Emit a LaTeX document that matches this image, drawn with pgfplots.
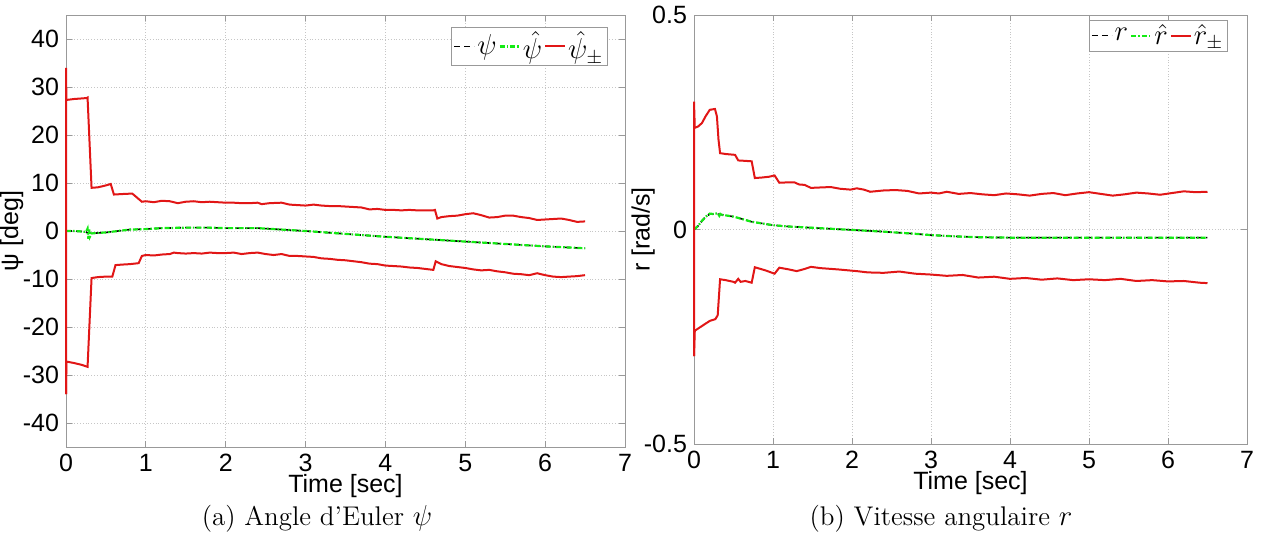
\documentclass[border=0pt]{standalone}
\usepackage{fontspec}
\newfontfamily\arial{Liberation Sans}
\usepackage{pgfplots}
\pgfplotsset{compat=1.18}
\definecolor{mred}{RGB}{225,22,22}
\definecolor{mgreen}{RGB}{20,235,20}
\pgfplotsset{
  mstyle/.style={
    scale only axis,
    clip=false,
    xmin=0, xmax=7,
    xtick={0,1,2,3,4,5,6,7},
    xticklabels={0,1,2,3,4,5,6,7},
    grid=major,
    grid style={densely dotted, gray!45},
    axis line style={gray!80},
    tick style={gray!80, thin},
    tick align=inside,
    major tick length=3pt,
    ticklabel style={font=\arial\fontsize{12.5}{14}\selectfont, text=black},
    label style={font=\arial\fontsize{12.5}{14}\selectfont},
    xlabel style={at={(axis description cs:0.5,0)}, anchor=center, yshift=-19.5pt},
    legend columns=3,
    legend style={draw=gray!80, fill=white, inner xsep=1pt, inner ysep=2pt, outer sep=0pt,
      font=\fontsize{14.5}{16}\selectfont,
      /tikz/every even column/.append style={column sep=0pt},
      nodes={inner xsep=1pt, inner ysep=0pt}},
    legend image code/.code={\draw[#1] (0pt,0pt) -- (10pt,0pt);},
  },
  redl/.style={mred, line width=1pt, solid},
  blkl/.style={black, line width=0.8pt, densely dashed},
  grnl/.style={mgreen, line width=1.1pt, dash pattern=on 2.5pt off 1pt on 0.8pt off 1pt},
}
\begin{document}
\begin{tikzpicture}
\useasboundingbox (0,0) rectangle (632pt,271pt);
% ---------------- left ----------------
\begin{axis}[mstyle,
  at={(33pt,47.5pt)}, anchor=south west,
  width=279.5pt, height=216pt,
  ymin=-45, ymax=45,
  ytick={-40,-30,-20,-10,0,10,20,30,40},
  yticklabels={-40,-30,-20,-10,0,10,20,30,40},
  xlabel={Time [sec]},
  ylabel={ψ [deg]},
  ylabel style={at={(axis description cs:-0.097,0.5)}, anchor=center},
  legend style={at={(axis description cs:0.968,0.972)}, anchor=north east},
]
\addplot[blkl] coordinates {
(0,0) (0.1,0) (0.2,-0.1) (0.25,-0.2) (0.28,-0.5) (0.3,-0.4) (0.32,-0.5) (0.4,-0.4) (0.5,-0.3) (0.6,-0.1) (0.7,0.1) (0.8,0.3) (1.0,0.4) (1.2,0.6) (1.5,0.7) (1.8,0.7) (2.0,0.6) (2.4,0.6) (2.6,0.4) (2.8,0.2) (3.0,0.0) (3.5,-0.6) (4.0,-1.2) (4.5,-1.7) (5.0,-2.2) (5.5,-2.7) (6.0,-3.2) (6.5,-3.6)
};
\addlegendentry{$\psi$}
\addplot[grnl] coordinates {
(0,0) (0.1,0) (0.2,-0.1) (0.25,-0.2) (0.27,0.5) (0.28,-1.6) (0.29,0.3) (0.3,-1.2) (0.32,-0.5) (0.4,-0.4) (0.5,-0.3) (0.6,-0.1) (0.7,0.1) (0.8,0.3) (1.0,0.4) (1.2,0.6) (1.5,0.7) (1.8,0.7) (2.0,0.6) (2.4,0.6) (2.6,0.4) (2.8,0.2) (3.0,0.0) (3.5,-0.6) (4.0,-1.2) (4.5,-1.7) (5.0,-2.2) (5.5,-2.7) (6.0,-3.2) (6.5,-3.6)
};
\addlegendentry{$\hat\psi$}
\addplot[redl] coordinates {
(0,-34) (0,34) (0.005,27.3) (0.1,27.5) (0.26,27.7) (0.27,27.8) (0.32,9.0) (0.4,9.1) (0.5,9.5) (0.56,9.8) (0.6,7.6) (0.7,7.7) (0.83,7.8) (0.95,6.1) (1.0,6.2) (1.1,6.0) (1.2,6.3) (1.3,6.2) (1.4,5.8) (1.5,6.1) (1.6,6.2) (1.7,6.0) (1.8,6.1) (1.9,6.0) (2.0,5.9) (2.1,5.9) (2.2,5.8) (2.3,5.8) (2.4,5.9) (2.45,5.6) (2.55,5.8) (2.7,5.9) (2.8,5.5) (2.9,5.4) (3.0,5.3) (3.1,5.5) (3.2,5.3) (3.3,5.2) (3.4,5.2) (3.5,5.1) (3.6,5.0) (3.7,4.9) (3.8,4.5) (3.9,4.6) (4.0,4.4) (4.1,4.4) (4.2,4.3) (4.3,4.4) (4.4,4.3) (4.5,4.3) (4.6,4.3) (4.62,4.4) (4.65,2.6) (4.7,2.9) (4.8,3.1) (4.9,3.2) (5.0,3.5) (5.1,3.7) (5.2,3.3) (5.3,2.8) (5.4,2.9) (5.5,3.2) (5.6,3.2) (5.7,2.9) (5.8,2.7) (5.9,2.3) (6.0,2.4) (6.1,2.5) (6.2,2.6) (6.3,2.3) (6.4,1.9) (6.5,2.0)
};
\addlegendentry{$\hat\psi_\pm$}
\addplot[redl, forget plot] coordinates {
(0,-34) (0.005,-27.2) (0.1,-27.5) (0.2,-27.9) (0.27,-28.3) (0.32,-9.8) (0.4,-9.6) (0.5,-9.5) (0.58,-9.5) (0.62,-7.1) (0.7,-7.0) (0.8,-6.9) (0.91,-6.7) (0.95,-5.2) (1.0,-5.0) (1.1,-5.1) (1.2,-4.9) (1.3,-4.8) (1.35,-4.5) (1.4,-4.6) (1.5,-4.7) (1.6,-4.6) (1.7,-4.7) (1.8,-4.5) (1.9,-4.6) (2.0,-4.6) (2.1,-4.5) (2.2,-4.8) (2.3,-4.6) (2.4,-4.5) (2.5,-4.8) (2.6,-5.0) (2.7,-4.8) (2.8,-5.2) (2.9,-5.2) (3.0,-5.3) (3.1,-5.4) (3.2,-5.7) (3.3,-5.8) (3.4,-6.0) (3.5,-6.1) (3.6,-6.3) (3.7,-6.5) (3.8,-6.8) (3.9,-6.9) (4.0,-7.2) (4.1,-7.3) (4.2,-7.4) (4.3,-7.6) (4.4,-7.7) (4.5,-7.9) (4.6,-8.1) (4.63,-6.3) (4.7,-6.9) (4.8,-7.3) (4.9,-7.5) (5.0,-7.7) (5.1,-8.0) (5.2,-8.2) (5.3,-8.1) (5.4,-8.4) (5.5,-8.6) (5.6,-8.9) (5.7,-9.0) (5.8,-9.2) (5.9,-8.8) (6.0,-9.2) (6.1,-9.5) (6.2,-9.6) (6.3,-9.5) (6.4,-9.4) (6.5,-9.2)
};
\end{axis}
% ---------------- right ----------------
\begin{axis}[mstyle,
  at={(347pt,49pt)}, anchor=south west,
  width=276.5pt, height=214.5pt,
  ymin=-0.5, ymax=0.5,
  ytick={-0.5,0,0.5},
  yticklabels={-0.5,0,0.5},
  xlabel={Time [sec]},
  ylabel={r [rad/s]},
  ylabel style={at={(axis description cs:-0.092,0.5)}, anchor=center},
  legend style={at={(axis description cs:0.964,0.988)}, anchor=north east},
]
\addplot[blkl] coordinates {
(0,0) (0.05,0.008) (0.1,0.02) (0.15,0.03) (0.2,0.036) (0.3,0.036) (0.4,0.033) (0.5,0.03) (0.6,0.025) (0.73,0.018) (0.8,0.016) (1.0,0.01) (1.2,0.007) (1.5,0.004) (1.8,0.001) (2.0,-0.001) (2.4,-0.005) (2.8,-0.01) (3.0,-0.013) (3.3,-0.016) (3.6,-0.018) (4.0,-0.019) (4.5,-0.019) (5.0,-0.019) (5.5,-0.019) (6.0,-0.019) (6.5,-0.019)
};
\addlegendentry{$r$}
\addplot[grnl] coordinates {
(0,0) (0.05,0.008) (0.1,0.02) (0.15,0.03) (0.2,0.037) (0.25,0.036) (0.3,0.038) (0.32,0.032) (0.34,0.039) (0.36,0.034) (0.4,0.033) (0.5,0.03) (0.6,0.025) (0.73,0.018) (0.8,0.016) (1.0,0.01) (1.2,0.007) (1.5,0.004) (1.8,0.001) (2.0,-0.001) (2.4,-0.005) (2.8,-0.01) (3.0,-0.013) (3.3,-0.016) (3.6,-0.018) (4.0,-0.019) (4.5,-0.019) (5.0,-0.019) (5.5,-0.019) (6.0,-0.019) (6.5,-0.019)
};
\addlegendentry{$\hat r$}
\addplot[redl] coordinates {
(0,-0.295) (0,0.298) (0.01,0.237) (0.05,0.24) (0.1,0.248) (0.15,0.265) (0.2,0.279) (0.265,0.281) (0.29,0.264) (0.31,0.21) (0.33,0.178) (0.4,0.176) (0.52,0.174) (0.56,0.161) (0.65,0.16) (0.73,0.159) (0.77,0.120) (0.85,0.121) (0.95,0.123) (1.02,0.126) (1.08,0.109) (1.2,0.11) (1.27,0.110) (1.33,0.105) (1.4,0.104) (1.48,0.097) (1.6,0.098) (1.73,0.099) (1.85,0.095) (1.98,0.093) (2.06,0.096) (2.15,0.093) (2.23,0.088) (2.4,0.091) (2.55,0.092) (2.7,0.09) (2.85,0.084) (3.0,0.086) (3.1,0.084) (3.2,0.088) (3.35,0.083) (3.5,0.085) (3.65,0.082) (3.8,0.080) (3.95,0.084) (4.1,0.082) (4.25,0.079) (4.4,0.083) (4.55,0.085) (4.7,0.080) (4.85,0.084) (5.0,0.087) (5.15,0.083) (5.3,0.079) (5.45,0.082) (5.6,0.086) (5.75,0.084) (5.9,0.081) (6.05,0.085) (6.2,0.089) (6.35,0.087) (6.5,0.088)
};
\addlegendentry{$\hat r_\pm$}
\addplot[redl, forget plot] coordinates {
(0,-0.295) (0.01,-0.236) (0.1,-0.225) (0.2,-0.213) (0.27,-0.209) (0.3,-0.2) (0.33,-0.116) (0.4,-0.118) (0.5,-0.122) (0.52,-0.124) (0.56,-0.115) (0.59,-0.122) (0.65,-0.12) (0.73,-0.124) (0.77,-0.088) (0.9,-0.095) (1.02,-0.103) (1.08,-0.089) (1.2,-0.093) (1.3,-0.097) (1.4,-0.092) (1.48,-0.087) (1.6,-0.09) (1.82,-0.093) (2.06,-0.097) (2.2,-0.1) (2.4,-0.101) (2.6,-0.098) (2.8,-0.103) (3.0,-0.105) (3.2,-0.108) (3.4,-0.106) (3.6,-0.112) (3.8,-0.11) (4.0,-0.115) (4.2,-0.113) (4.4,-0.117) (4.6,-0.114) (4.8,-0.118) (5.0,-0.116) (5.2,-0.118) (5.4,-0.115) (5.6,-0.12) (5.8,-0.118) (6.0,-0.121) (6.2,-0.12) (6.4,-0.124) (6.5,-0.125)
};
\end{axis}
% captions
\node[font=\fontsize{13.5}{16}\selectfont] at (158.5pt,11.5pt) {(a) Angle d'Euler $\psi$};
\node[font=\fontsize{13.5}{16}\selectfont] at (470.5pt,11.5pt) {(b) Vitesse angulaire $r$};
\end{tikzpicture}
\end{document}
